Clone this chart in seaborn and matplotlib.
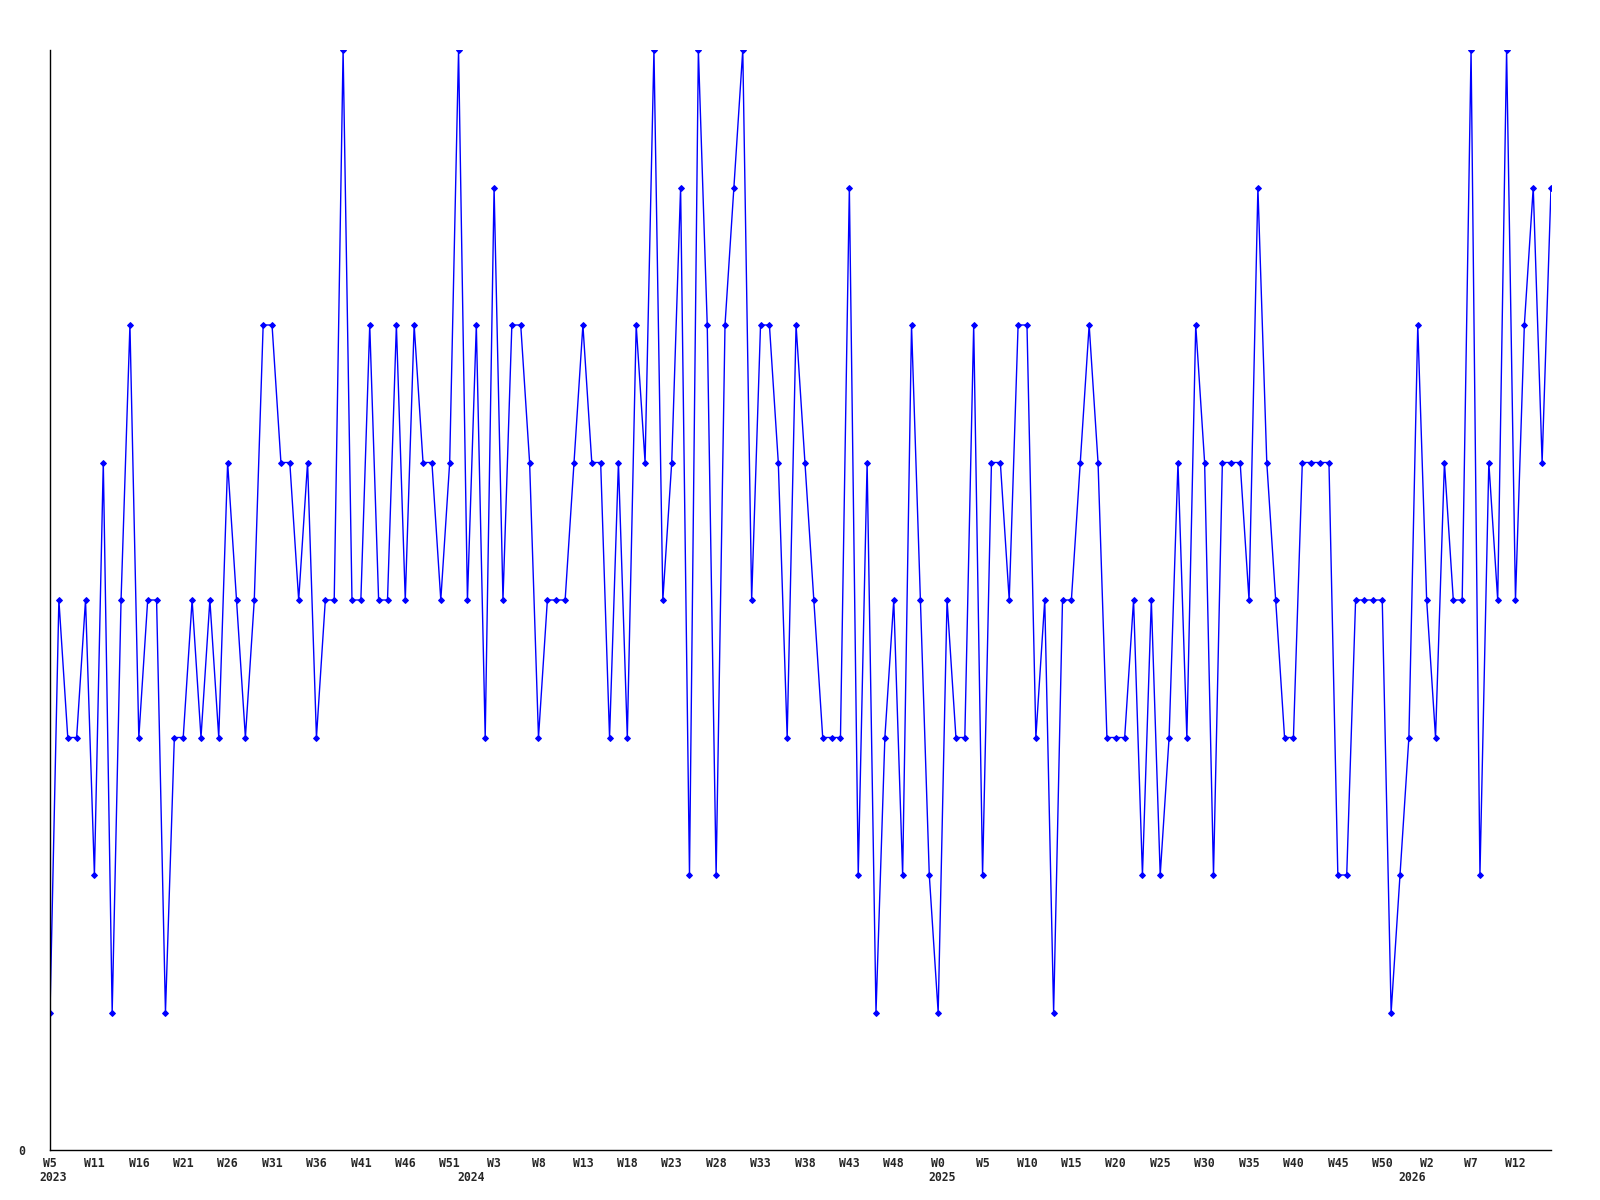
import matplotlib
matplotlib.use("Agg")
import matplotlib.pyplot as plt
import seaborn as sns
import pandas as pd

# weekly values, 2023 W5 .. 2026
values = [1, 4, 3, 3, 4, 2, 5, 1, 4, 6,
          3, 4, 4, 1, 3, 3, 4, 3, 4, 3,
          5, 4, 3, 4, 6, 6, 5, 5, 4, 5,
          3, 4, 4, 8, 4, 4, 6, 4, 4, 6,
          4, 6, 5, 5, 4, 5, 8, 4, 6, 3,
          7, 4, 6, 6, 5, 3, 4, 4, 4, 5,
          6, 5, 5, 3, 5, 3, 6, 5, 8, 4,
          5, 7, 2, 8, 6, 2, 6, 7, 8, 4,
          6, 6, 5, 3, 6, 5, 4, 3, 3, 3,
          7, 2, 5, 1, 3, 4, 2, 6, 4, 2,
          1, 4, 3, 3, 6, 2, 5, 5, 4, 6,
          6, 3, 4, 1, 4, 4, 5, 6, 5, 3,
          3, 3, 4, 2, 4, 2, 3, 5, 3, 6,
          5, 2, 5, 5, 5, 4, 7, 5, 4, 3,
          3, 5, 5, 5, 5, 2, 2, 4, 4, 4,
          4, 1, 2, 3, 6, 4, 3, 5, 4, 4,
          8, 2, 5, 4, 8, 4, 6, 7, 5, 7]

week_labels = ["W5", "W11", "W16", "W21", "W26", "W31", "W36", "W41", "W46", "W51",
               "W3", "W8", "W13", "W18", "W23", "W28", "W33", "W38", "W43", "W48",
               "W0", "W5", "W10", "W15", "W20", "W25", "W30", "W35", "W40", "W45",
               "W50", "W2", "W7", "W12"]
years = ["2023", "2024", "2025", "2026"]
year_pos = [0, 47, 100, 153]

df = pd.DataFrame({"week": range(len(values)), "value": values})

sns.set_style("white")
plt.rcParams["font.family"] = ["DejaVu Sans Mono"]

fig = plt.figure(figsize=(16, 12), dpi=100)
ax = fig.add_axes([50 / 1600, 50 / 1200, 1501 / 1600, 1100 / 1200])

sns.lineplot(data=df, x="week", y="value", ax=ax, color="#0000ff", linewidth=1,
             marker="D", markersize=3, markeredgecolor="#0000ff")

ax.set_xlim(0, len(values) - 1)
ax.set_ylim(0, 8)
ax.set_xlabel("")
ax.set_ylabel("")

ax.set_xticks(range(0, len(values), 5))
ax.set_xticklabels(week_labels, fontsize=8.3, fontweight="bold")
ax.set_yticks([0])
ax.set_yticklabels(["0"], fontsize=8.3, fontweight="bold")
ax.tick_params(axis="x", length=0, pad=5)
ax.tick_params(axis="y", length=0, pad=18)

for yr, pos in zip(years, year_pos):
    ax.annotate(yr, xy=(pos + 0.4, 0), xycoords=("data", "axes fraction"),
                xytext=(0, -19.5), textcoords="offset points",
                ha="center", va="center", fontsize=8.3, fontweight="bold")

sns.despine(ax=ax)
for side in ["left", "bottom"]:
    ax.spines[side].set_color("black")
    ax.spines[side].set_linewidth(1)

fig.savefig("out.png", dpi=100)
